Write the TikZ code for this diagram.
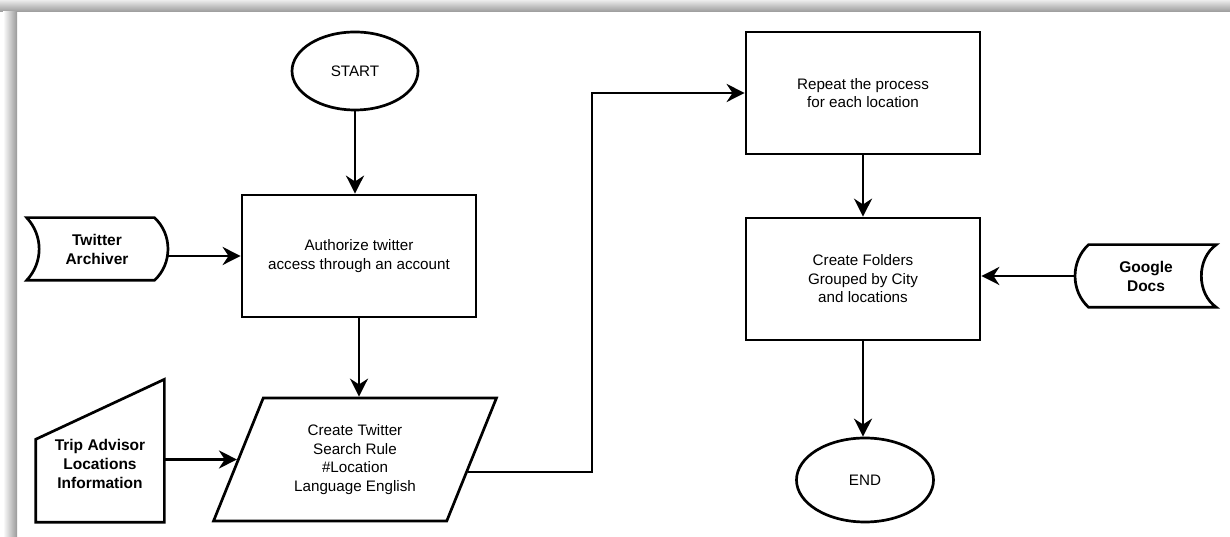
\documentclass[tikz,border=0pt]{standalone}
\usepackage{fontspec}
\setmainfont{Liberation Sans}
\usetikzlibrary{arrows.meta,shapes.geometric,calc}

\begin{document}
\begin{tikzpicture}[x=1pt,y=1pt,line width=2.7pt,
  stepbox/.style={draw,rectangle,minimum width=234,minimum height=122,align=center,font=\fontsize{15.2}{18.5}\selectfont},
  term/.style={draw,ellipse,minimum width=126,minimum height=78,font=\fontsize{15.2}{17}\selectfont},
  iobox/.style={draw,trapezium,trapezium left angle=65.5,trapezium right angle=114.5,trapezium stretches=true,minimum width=283,minimum height=123,align=center,font=\fontsize{15.2}{18.5}\selectfont},
  srcbox/.style={minimum width=138,minimum height=60,align=center,font=\bfseries\fontsize{15.5}{19}\selectfont},
  arr/.style={-{Stealth[length=18pt,width=18pt]}}]
  \useasboundingbox (0,0) rectangle (1230,537);
  % frame shadow
  \shade[top color=gray!15,bottom color=gray!80,line width=0pt] (0,525) rectangle (1230,537);
  \shade[left color=white,right color=gray!80,line width=0pt] (3,0) rectangle (17,525);
  %
  \node[term] (start)  at (355,466) {START};
  \node[stepbox] (auth)   at (359,281) {Authorize twitter\\access through an account};
  \node[iobox] (search)   at (355,77.5) {Create Twitter\\Search Rule\\\#Location\\Language English};
  \node[stepbox] (repeat) at (863,444) {Repeat the process\\for each location};
  \node[stepbox] (folders) at (863,258) {Create Folders\\Grouped by City\\and locations};
  \node[term,minimum width=137,minimum height=84] (finish) at (865,57) {END};
  \node[srcbox] (archiver) at (97,288) {Twitter\\Archiver};
  \node[srcbox,minimum width=126,minimum height=114] (trip) at (100,73) {Trip Advisor\\Locations\\Information};
  \node[srcbox] (google) at (1146,261) {Google\\Docs};
  \coordinate (turn) at (592,0);
  %
  % outlines of the data shapes
  \draw (archiver.north west) to[bend left=43] (archiver.south west)
    -- ([xshift=-13]archiver.south east) to[bend right=48] ([xshift=-13]archiver.north east) -- cycle;
  \draw ([xshift=13]google.north west) -- (google.north east) to[bend right=55] (google.south east)
    -- ([xshift=13]google.south west) to[bend left=48] cycle;
  \draw (trip.south west) -- (trip.south east) -- ($(trip.south east)+(0,143)$)
    -- ($(trip.south west)+(0,83)$) -- cycle;
  %
  \def\list {start/auth, auth/search, repeat/folders, folders/finish}  % downward
  \foreach \u\v in \list
  {	\draw[arr] (\u.south) -- (\u.south |- \v.north);
  }
  \draw[arr] (archiver.east |- auth.west) -- (auth.west);
  \draw[arr] (trip.east |- search.west) -- (search.west);
  \draw[arr] (google.west) -- (google.west -| folders.east);
  \draw[arr] ($(search.bottom right corner)!0.4!(search.top right corner)$) -| (turn |- repeat.west) -- (repeat.west);
\end{tikzpicture}
\end{document}
